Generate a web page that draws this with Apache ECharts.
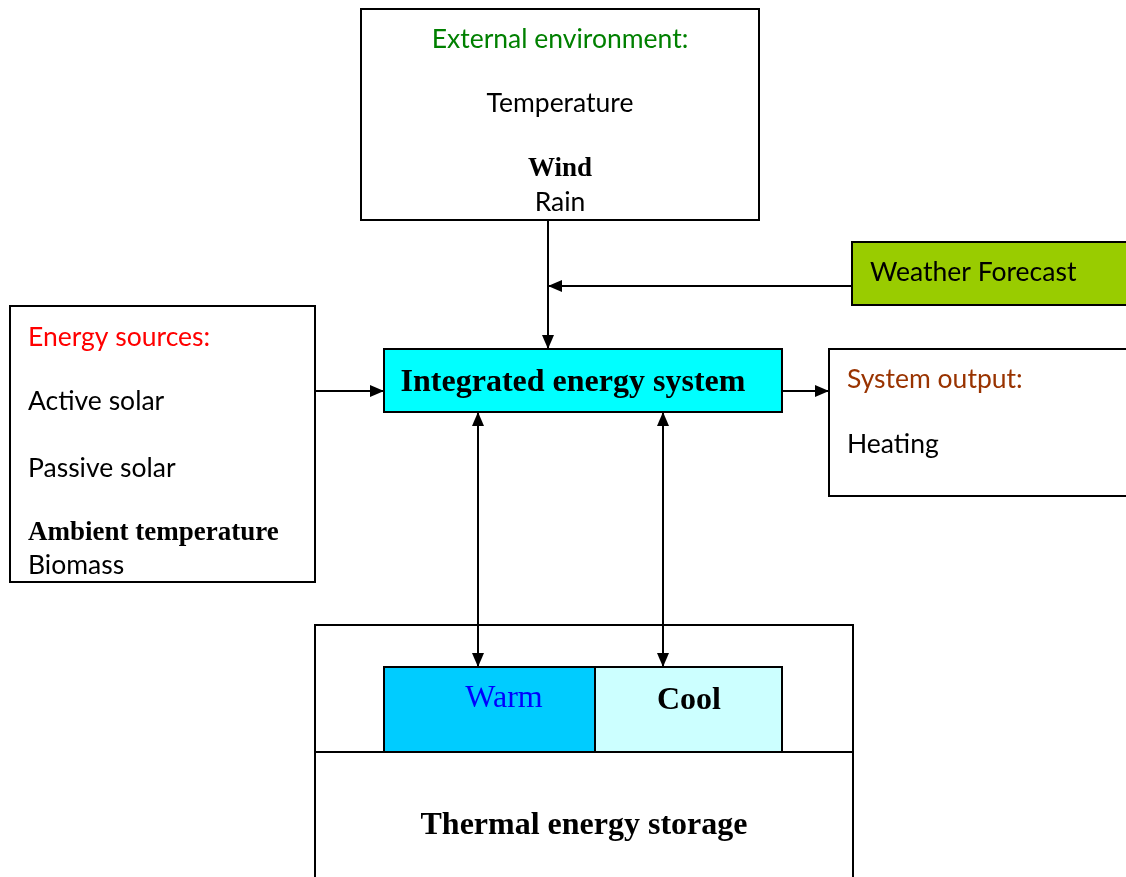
<!DOCTYPE html>
<html>
<head>
<meta charset="utf-8">
<script src="https://cdn.jsdelivr.net/npm/echarts@6/dist/echarts.min.js"></script>
<style>
  html, body { margin: 0; padding: 0; background: #fff; }
  #chart { width: 1126px; height: 877px; }
</style>
</head>
<body>
<div id="chart"></div>
<script>
// blocks of the diagram (diagram units = px)
const boxNames  = ['external', 'energy', 'integrated', 'output', 'forecast', 'storeTop', 'storeBottom', 'warm', 'cool'];
const boxLeft   = [361, 10, 384, 829, 852, 315, 315, 384, 595];
const boxTop    = [9, 306, 349, 349, 242, 625, 752, 667, 667];
const boxRight  = [759, 315, 782, 1140, 1140, 853, 853, 595, 782];
const boxBottom = [220, 582, 412, 496, 305, 752, 895, 752, 752];

// connectors
const arrowFrom = [[548, 220], [852, 286], [315, 391], [782, 391], [478, 412], [663, 412]];
const arrowTo   = [[548, 349], [548, 286], [384, 391], [829, 391], [478, 667], [663, 667]];
const arrowBoth = [false, false, false, false, true, true];

// texts
const labelText = ['External environment:', 'Temperature', 'Wind', 'Rain',
  'Energy sources:', 'Active solar', 'Passive solar', 'Ambient temperature', 'Biomass',
  'Integrated energy system', 'System output:', 'Heating', 'Weather Forecast',
  'Warm', 'Cool', 'Thermal energy storage'];
const labelX = [560, 560, 560, 560, 28, 28, 28, 28, 28, 573, 847, 847, 870, 504, 689, 584];
const labelY = [37, 101, 166, 200, 335, 399, 466, 530, 563, 380, 377, 442, 270, 696, 698, 823];
const labelKind = ['green', 'sans', 'serifBold', 'sans', 'red', 'sans', 'sans', 'serifBold', 'sans',
  'serifBig', 'brown', 'sans', 'sans', 'warm', 'serifBig', 'serifBig'];

const boxFill = {
  integrated: '#00ffff', forecast: '#99cc00', warm: '#00ccff', cool: '#ccffff'
};
const SANS = 'Lato, "Liberation Sans", sans-serif';
const SERIF = '"Liberation Serif", "Times New Roman", serif';
// dy nudges the text so the cap middle sits on the read-off y
const textStyles = {
  sans:      { fill: '#000', font: '26.5px ' + SANS, dy: 2 },
  green:     { fill: '#008000', font: '26.5px ' + SANS, dy: 2 },
  red:       { fill: '#ff0000', font: '26.5px ' + SANS, dy: 2 },
  brown:     { fill: '#993300', font: '26.5px ' + SANS, dy: 2 },
  serifBold: { fill: '#000', font: 'bold 27px ' + SERIF, dy: 3 },
  serifBig:  { fill: '#000', font: 'bold 32px ' + SERIF, dy: 3 },
  warm:      { fill: '#0000ff', font: '32px ' + SERIF, dy: 3 }
};

const chart = echarts.init(document.getElementById('chart'));

const boxData = boxNames.map((n, i) => ({
  name: n,
  value: [boxLeft[i], boxTop[i], boxRight[i], boxBottom[i]],
  itemStyle: { color: boxFill[n] || '#fff' }
}));
const arrowData = arrowFrom.map((f, i) => [f[0], f[1], arrowTo[i][0], arrowTo[i][1], arrowBoth[i] ? 1 : 0]);
const labelData = labelText.map((t, i) => ({ name: t, value: [labelX[i], labelY[i], i] }));

function head(tip, back) {
  // triangle pointing from back towards tip
  const dx = tip[0] - back[0], dy = tip[1] - back[1];
  const len = Math.sqrt(dx * dx + dy * dy) || 1;
  const ux = dx / len, uy = dy / len;
  const L = 14, W = 6;
  const bx = tip[0] - ux * L, by = tip[1] - uy * L;
  return {
    type: 'polygon',
    shape: { points: [tip, [bx - uy * W, by + ux * W], [bx + uy * W, by - ux * W]] },
    style: { fill: '#000' }
  };
}

chart.setOption({
  animation: false,
  grid: { left: 0, right: 0, top: 0, bottom: 0 },
  xAxis: { type: 'value', min: 0, max: 1126, show: false },
  yAxis: { type: 'value', min: 0, max: 877, inverse: true, show: false },
  series: [
    {
      type: 'custom',
      name: 'boxes',
      data: boxData,
      clip: false,
      renderItem: function (params, api) {
        const p0 = api.coord([api.value(0), api.value(1)]);
        const p1 = api.coord([api.value(2), api.value(3)]);
        return {
          type: 'rect',
          shape: { x: p0[0], y: p0[1], width: p1[0] - p0[0], height: p1[1] - p0[1] },
          style: { fill: api.visual('color'), stroke: '#000', lineWidth: 2 }
        };
      }
    },
    {
      type: 'custom',
      name: 'arrows',
      data: arrowData,
      clip: false,
      renderItem: function (params, api) {
        const a = api.coord([api.value(0), api.value(1)]);
        const b = api.coord([api.value(2), api.value(3)]);
        const kids = [
          { type: 'line', shape: { x1: a[0], y1: a[1], x2: b[0], y2: b[1] }, style: { stroke: '#000', lineWidth: 2 } },
          head(b, a)
        ];
        if (api.value(4) === 1) kids.push(head(a, b));
        return { type: 'group', children: kids };
      }
    },
    {
      type: 'custom',
      name: 'labels',
      data: labelData,
      clip: false,
      renderItem: function (params, api) {
        const p = api.coord([api.value(0), api.value(1)]);
        const i = api.value(2);
        const st = textStyles[labelKind[i]];
        const left = labelX[i] < 100 || labelX[i] > 800;
        return {
          type: 'text',
          x: p[0], y: p[1] + st.dy,
          style: {
            text: labelText[i], fill: st.fill, font: st.font,
            align: left ? 'left' : 'center', verticalAlign: 'middle'
          }
        };
      }
    }
  ]
});
</script>
</body>
</html>
